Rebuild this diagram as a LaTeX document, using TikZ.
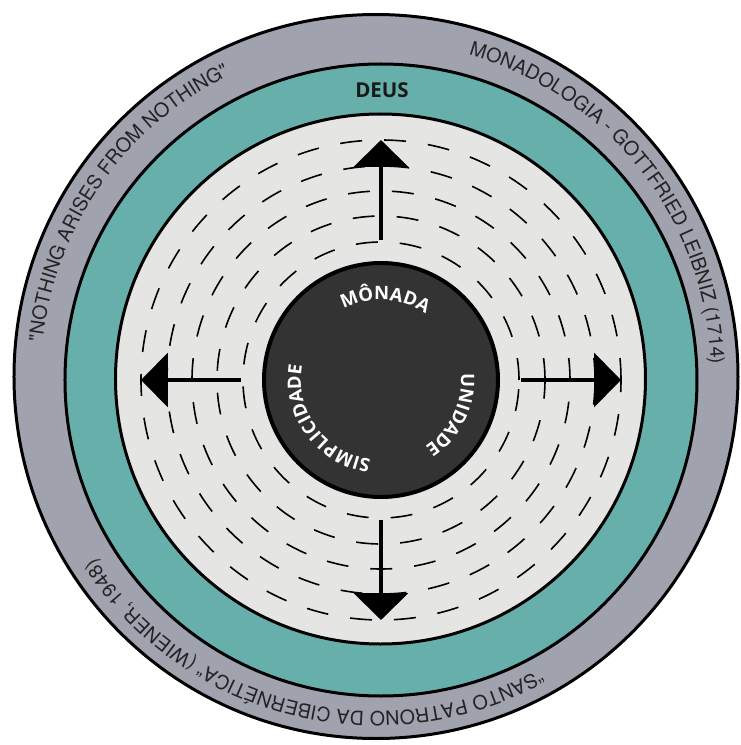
\documentclass[tikz,border=0pt]{standalone}
\usepackage{fontspec}
\usepackage{xcolor}
\usepackage{tikz}
\usetikzlibrary{arrows.meta,decorations.text,calc}
\newfontfamily\heros{TeX Gyre Heros}
\newfontfamily\opensans{Open Sans}
\definecolor{ceugray}{RGB}{160,163,173}
\definecolor{deusteal}{RGB}{103,175,171}
\definecolor{campogray}{RGB}{229,229,227}
\definecolor{monadadark}{RGB}{51,51,51}
\definecolor{ringink}{RGB}{35,35,38}

\begin{document}
\begin{tikzpicture}[
    x=1pt, y=1pt,
    ring/.style={circle, draw=black, line width=3pt, inner sep=0pt},
    dashring/.style={draw=black, line width=1.6pt, dash pattern=on 22pt off 22pt},
    arr/.style={-{Triangle[width=54pt,length=27pt]}, line width=4.3pt},
    outertext/.style={decorate, decoration={text along path, text align=center,
                text={|\heros\fontsize{19.6}{19.6}\selectfont\color{ringink}|#1}}},
    innertext/.style={decorate, decoration={text along path, text align=center,
                text={|\opensans\bfseries\fontsize{18.5}{18.5}\selectfont\color{white}|#1}}}
]
\useasboundingbox (-381,-365) rectangle (360,380);

\node[ring, fill=ceugray, minimum size=724pt] (ceu) at (-5,3.5) {};
\node[ring, fill=deusteal, minimum size=632pt] (deus) at (0,0) {};
\node[ring, fill=campogray, minimum size=530pt] (campo) at (-0.5,1) {};

\foreach \r in {138,164,189,214,240}
    \draw[dashring] (0,0) circle[radius=\r];

\node[ring, fill=monadadark, line width=4pt, minimum size=234pt] (monada) at (0,0) {};

\foreach \a in {0,90,180,270} {
    \coordinate (s\a) at (\a:140);
    \coordinate (t\a) at (\a:240);
    \draw[arr] (s\a) -- (t\a);
}

\node[font=\opensans\bfseries\fontsize{20.5}{20.5}\selectfont, text=black!90] (deuslabel) at (1,290) {DEUS};

\path[outertext={MONADOLOGIA - GOTTFRIED LEIBNIZ (1714)}]
    ($(ceu.center)+(98:335)$) arc[start angle=98, end angle=-22, radius=335];
\path[outertext={"NOTHING ARISES FROM NOTHING"}]
    ($(ceu.center)+(205:335)$) arc[start angle=205, end angle=85, radius=335];
\path[outertext={“SANTO PATRONO DA CIBERNÉTICA“ (WIENER, 1948)}]
    ($(ceu.center)+(-34:335)$) arc[start angle=-34, end angle=-174, radius=335];

\path[innertext={MÔNADA}]
    (147:80) arc[start angle=147, end angle=27, radius=80];
\path[innertext={UNIDADE}]
    (34:80) arc[start angle=34, end angle=-86, radius=80];
\path[innertext={SIMPLICIDADE}]
    (276:80) arc[start angle=276, end angle=156, radius=80];
\end{tikzpicture}
\end{document}
